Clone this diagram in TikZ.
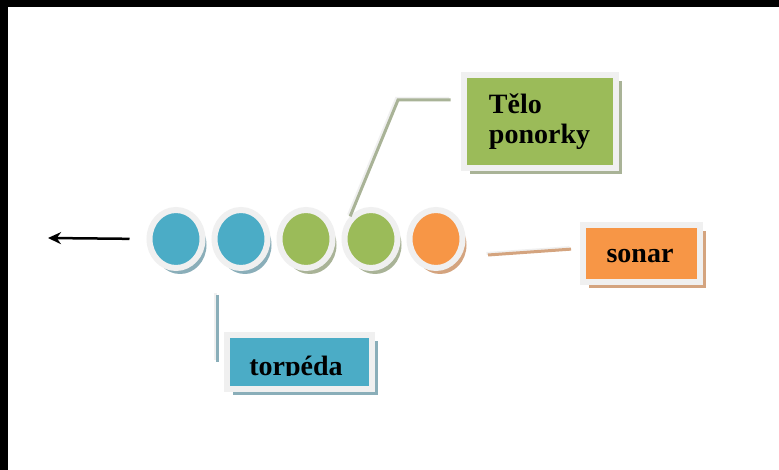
\documentclass[tikz,border=0pt]{standalone}
\usepackage{fontspec}
\setmainfont{Liberation Serif}
\usetikzlibrary{shapes.geometric,shadows,arrows.meta}
\definecolor{aqua}{HTML}{4BACC6}
\definecolor{leaf}{HTML}{9BBB59}
\definecolor{peach}{HTML}{F79646}
\definecolor{aquashade}{HTML}{8AAEB9}
\definecolor{leafshade}{HTML}{A9B397}
\definecolor{peachshade}{HTML}{D4A47F}
\definecolor{rim}{HTML}{F0F0F0}
\tikzset{
  part/.style={ellipse, fill=#1, draw=rim, line width=6pt, minimum width=53pt, minimum height=58pt, inner sep=0pt},
  partshadow/.style={drop shadow={shadow xshift=4pt, shadow yshift=-6pt, fill=#1, opacity=1}},
  tag/.style={fill=#1, draw=rim, line width=6pt, inner sep=0pt, font=\fontsize{28}{30}\selectfont\bfseries},
  tagshadow/.style={drop shadow={shadow xshift=6pt, shadow yshift=-6pt, fill=#1, opacity=1}},
  lead/.style={draw=#1, line width=3pt, preaction={draw=rim, line width=3pt, transform canvas={shift={(-1.5pt,1.5pt)}}}}
}

\begin{document}
\begin{tikzpicture}[x=1pt, y=-1pt]
        \useasboundingbox (0,0) rectangle (779,470);
        \fill[white] (0,0) rectangle (779,470);
        \fill[black] (0,0) rectangle (779,7);
        \fill[black] (0,0) rectangle (8,470);
        \node[part=aqua, partshadow=aquashade] (c1) at (176,239) {};
        \node[part=aqua, partshadow=aquashade] (c2) at (241,239) {};
        \node[part=leaf, partshadow=leafshade] (c3) at (306,239) {};
        \node[part=leaf, partshadow=leafshade] (c4) at (371,239) {};
        \node[part=peach, partshadow=peachshade] (c5) at (436,239) {};
        \node[tag=leaf, tagshadow=leafshade, minimum width=152pt, minimum height=93pt, align=left] (body) at (539.5,122) {Tělo\\ponorky};
        \node[tag=peach, tagshadow=peachshade, minimum width=117pt, minimum height=57pt] (sonar) at (641.5,253.5) {};
        \node[font=\fontsize{28}{30}\selectfont\bfseries, anchor=base] (sonartext) at (640,263) {sonar};
        \node[tag=aqua, tagshadow=aquashade, minimum width=145pt, minimum height=54pt] (torp) at (299,361.5) {};
        \begin{scope}
        \clip (torp.north west) rectangle ([yshift=-14pt]torp.east);
        \node[font=\fontsize{28}{30}\selectfont\bfseries, anchor=base] (torptext) at (296,375) {torpéda};
        \end{scope}
        \coordinate (bend) at (398,100);
        \draw[lead=leafshade, shorten >=10pt] (c4.north west) -- (bend) -- (bend -| body.west);
        \coordinate (sonarfrom) at (488,255);
        \draw[lead=peachshade, shorten >=9pt] (sonarfrom) -- ([yshift=5pt]sonar.west);
        \coordinate (torpfrom) at (217,295);
        \draw[lead=aquashade] (torpfrom) -- (torpfrom |- torp.west);
        \coordinate (heading) at (48,238);
        \draw[-{Stealth[length=13pt,width=12pt]}, line width=2.5pt, shorten <=17pt] (c1.west) -- (heading);
\end{tikzpicture}
\end{document}
